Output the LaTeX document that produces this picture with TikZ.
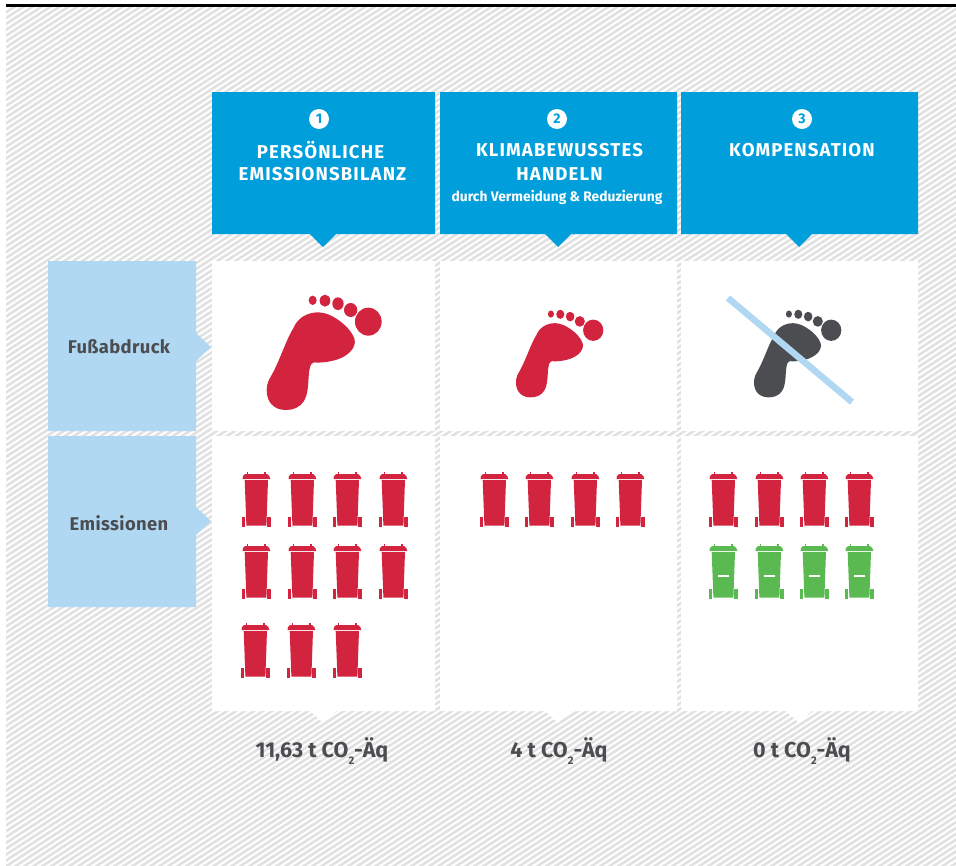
\documentclass[tikz,border=0pt]{standalone}
\usepackage{fontspec}
\setmainfont{Fira Sans}
\newfontfamily\hdrfont[LetterSpace=6]{Fira Sans}
\newfontfamily\lblfont[LetterSpace=2]{Fira Sans}
\definecolor{hdrblue}{HTML}{009FDB}
\definecolor{lightblue}{HTML}{B0D8F3}
\definecolor{binred}{HTML}{D2233F}
\definecolor{bingreen}{HTML}{5BB951}
\definecolor{darkgrey}{HTML}{4B4D50}
\definecolor{hatch}{HTML}{E1E1E1}
\tikzset{
  hdrtext/.style={text=white,font=\hdrfont\bfseries\fontsize{18.6}{20}\selectfont,inner sep=0pt,align=center},
  subtext/.style={text=white,font=\bfseries\fontsize{13.8}{15}\selectfont,inner sep=0pt},
  sidetext/.style={text=darkgrey,font=\lblfont\bfseries\fontsize{18.4}{20}\selectfont,inner sep=0pt},
  valtext/.style={text=darkgrey,font=\bfseries\fontsize{21.5}{24}\selectfont,inner sep=0pt},
  numdot/.style={circle,fill=white,text=hdrblue,minimum size=20pt,inner sep=0pt,font=\bfseries\fontsize{14}{14}\selectfont},
  foot/.pic={
    \fill[pic actions] (108,375) .. controls (70,375) and (50,350) .. (50,315)
      .. controls (50,295) and (58,282) .. (65,270)
      .. controls (90,225) and (108,165) .. (130,130)
      .. controls (142,100) and (170,82) .. (205,82)
      .. controls (245,82) and (300,125) .. (313,160)
      .. controls (322,190) and (290,215) .. (260,224)
      .. controls (235,232) and (205,234) .. (192,232)
      .. controls (180,235) and (178,250) .. (176,275)
      .. controls (174,310) and (172,332) .. (162,348)
      .. controls (150,367) and (130,375) .. (108,375) -- cycle;
    \fill[pic actions] (188,46) ellipse [x radius=12,y radius=14];
    \fill[pic actions] (225,47) ellipse [x radius=16,y radius=18];
    \fill[pic actions] (264,56) ellipse [x radius=17,y radius=19];
    \fill[pic actions] (302,75) ellipse [x radius=20,y radius=21];
    \fill[pic actions] (355,110) ellipse [x radius=40,y radius=42];
  },
  bin/.pic={
    \fill[pic actions] (4.5,0) rectangle (5.8,3);
    \fill[pic actions] (22.3,0) rectangle (23.6,3);
    \fill[pic actions] (3,2) -- (25,2) -- (27.3,4) -- (28.3,7) -- (0.5,7) -- (1,4) -- cycle;
    \fill[pic actions] (2.7,8) -- (26,8) -- (24.4,53.5) -- (4.4,53.5) -- cycle;
    \fill[pic actions] (0,45) rectangle (3.2,54.5);
    \fill[pic actions] (25.3,45) rectangle (28.5,54.5);
  },
  greenbin/.pic={
    \pic[fill=bingreen] {bin};
    \fill[white] (8.7,30.7) rectangle (19.7,33.3);
  },
}
\begin{document}
\begin{tikzpicture}[x=1pt,y=-1pt]
\useasboundingbox (0,0) rectangle (956,865);
\begin{scope}
  \clip (6,7) rectangle (956,865);
  \foreach \i in {0,...,300}{
    \draw[hatch,line width=2.6pt] ({\i*9-1500},880) -- ({\i*9-1500+1500},{880-1500*0.65});
  }
\end{scope}
\fill[black] (6,4) rectangle (956,7);
% header boxes
\fill[hdrblue] (212,92) -| (435,234) -- (336,234) -- (323,247) -- (310,234) -| cycle;
\fill[hdrblue] (440,92) -| (677,234) -- (571,234) -- (558,247) -- (545,234) -| cycle;
\fill[hdrblue] (681,92) -| (918,234) -- (812,234) -- (799,247) -- (786,234) -| cycle;
% side boxes
\fill[lightblue] (48,261) -| (196,333) -- (211,347) -- (196,361) |- (48,431) -- cycle;
\fill[lightblue] (48,436) -| (196,507) -- (211,521) -- (196,535) |- (48,607) -- cycle;
% white cells
\fill[white] (212,261) rectangle (435,431);
\fill[white] (440,261) rectangle (677,431);
\fill[white] (681,261) rectangle (918,431);
\fill[white] (212,436) -| (435,711) -- (336,711) -- (323,723) -- (310,711) -| cycle;
\fill[white] (440,436) -| (677,711) -- (571,711) -- (558,723) -- (545,711) -| cycle;
\fill[white] (681,436) -| (918,711) -- (812,711) -- (799,723) -- (786,711) -| cycle;
% header text
\node[numdot] (n1) at (319,119) {1};
\node[numdot] (n2) at (557,119) {2};
\node[numdot] (n3) at (802,119) {3};
\node[hdrtext] (h1a) at (320.5,150) {PERSÖNLICHE};
\node[hdrtext] (h1b) at (322.5,174.5) {EMISSIONSBILANZ};
\node[hdrtext] (h2a) at (559.5,150.5) {KLIMABEWUSSTES};
\node[hdrtext] (h2b) at (559.5,174.5) {HANDELN};
\node[subtext] (h2c) at (557,197) {durch Vermeidung \& Reduzierung};
\node[hdrtext] (h3a) at (802,150.5) {KOMPENSATION};
% side text
\node[sidetext] (s1) at (119,347) {Fußabdruck};
\node[sidetext] (s2) at (119,523) {Emissionen};
% feet
\begin{scope}[shift={(250,285)},x=0.3333pt,y=-0.3333pt]
  \pic[fill=binred] {foot};
\end{scope}
\begin{scope}[shift={(503.3,302.4)},x=0.2533pt,y=-0.2533pt]
  \pic[fill=binred] {foot};
\end{scope}
\begin{scope}[shift={(741.3,302.4)},x=0.2533pt,y=-0.2533pt]
  \pic[fill=darkgrey] {foot};
\end{scope}
\draw[lightblue,line width=6.5pt] (728,298) -- (852,402);
% bins
\foreach \x in {242,288,333,379}{\pic[fill=binred] at (\x,472) {bin};}
\foreach \x in {242,288,333,379}{\pic[fill=binred] at (\x,544) {bin};}
\foreach \x in {241,287,333}{\pic[fill=binred] at (\x,623) {bin};}
\foreach \x in {480,525,571,616}{\pic[fill=binred] at (\x,472) {bin};}
\foreach \x in {709,755,800,845}{\pic[fill=binred] at (\x,472) {bin};}
\foreach \x in {709,755,800,845}{\pic at (\x,544) {greenbin};}
% values
\node[valtext] (v1) at (322,751) {11,63 t CO\raisebox{-0.35em}{\fontsize{11}{11}\selectfont 2}-Äq};
\node[valtext] (v2) at (559,751) {4 t CO\raisebox{-0.35em}{\fontsize{11}{11}\selectfont 2}-Äq};
\node[valtext] (v3) at (802,751) {0 t CO\raisebox{-0.35em}{\fontsize{11}{11}\selectfont 2}-Äq};
\end{tikzpicture}
\end{document}
